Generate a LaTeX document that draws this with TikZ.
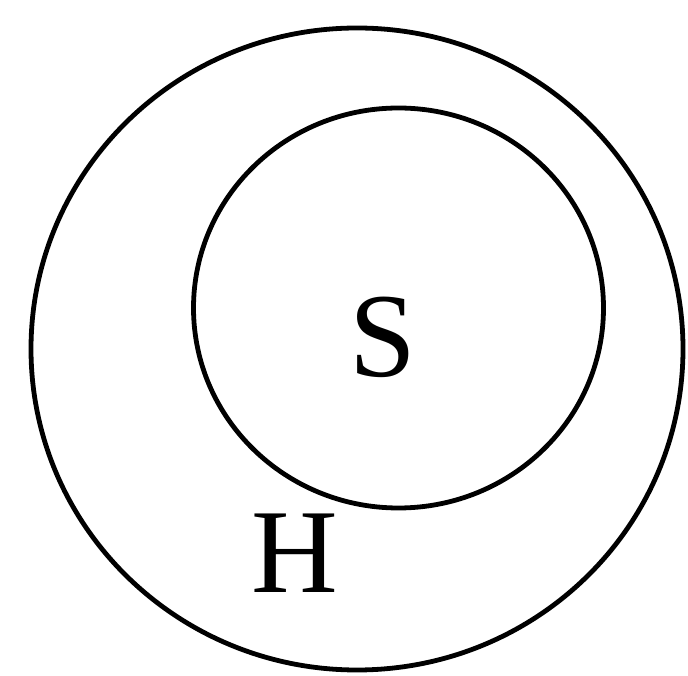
\documentclass[tikz,border=0pt]{standalone}
\usepackage{fontspec}
\setmainfont{Liberation Serif}
\begin{document}
\begin{tikzpicture}[x=1pt,y=1pt,ring/.style={draw=black,line width=4.8pt},lbl/.style={font=\fontsize{120}{120}\selectfont,inner sep=0pt}]
\useasboundingbox (0,0) rectangle (688,675);
\draw[ring] (357,326) ellipse [x radius=326,y radius=321];
\draw[ring] (398.5,367) ellipse [x radius=205,y radius=200];
\node[lbl] (S) at (383,338) {S};
\node[lbl] (H) at (295,122) {H};
\end{tikzpicture}
\end{document}
